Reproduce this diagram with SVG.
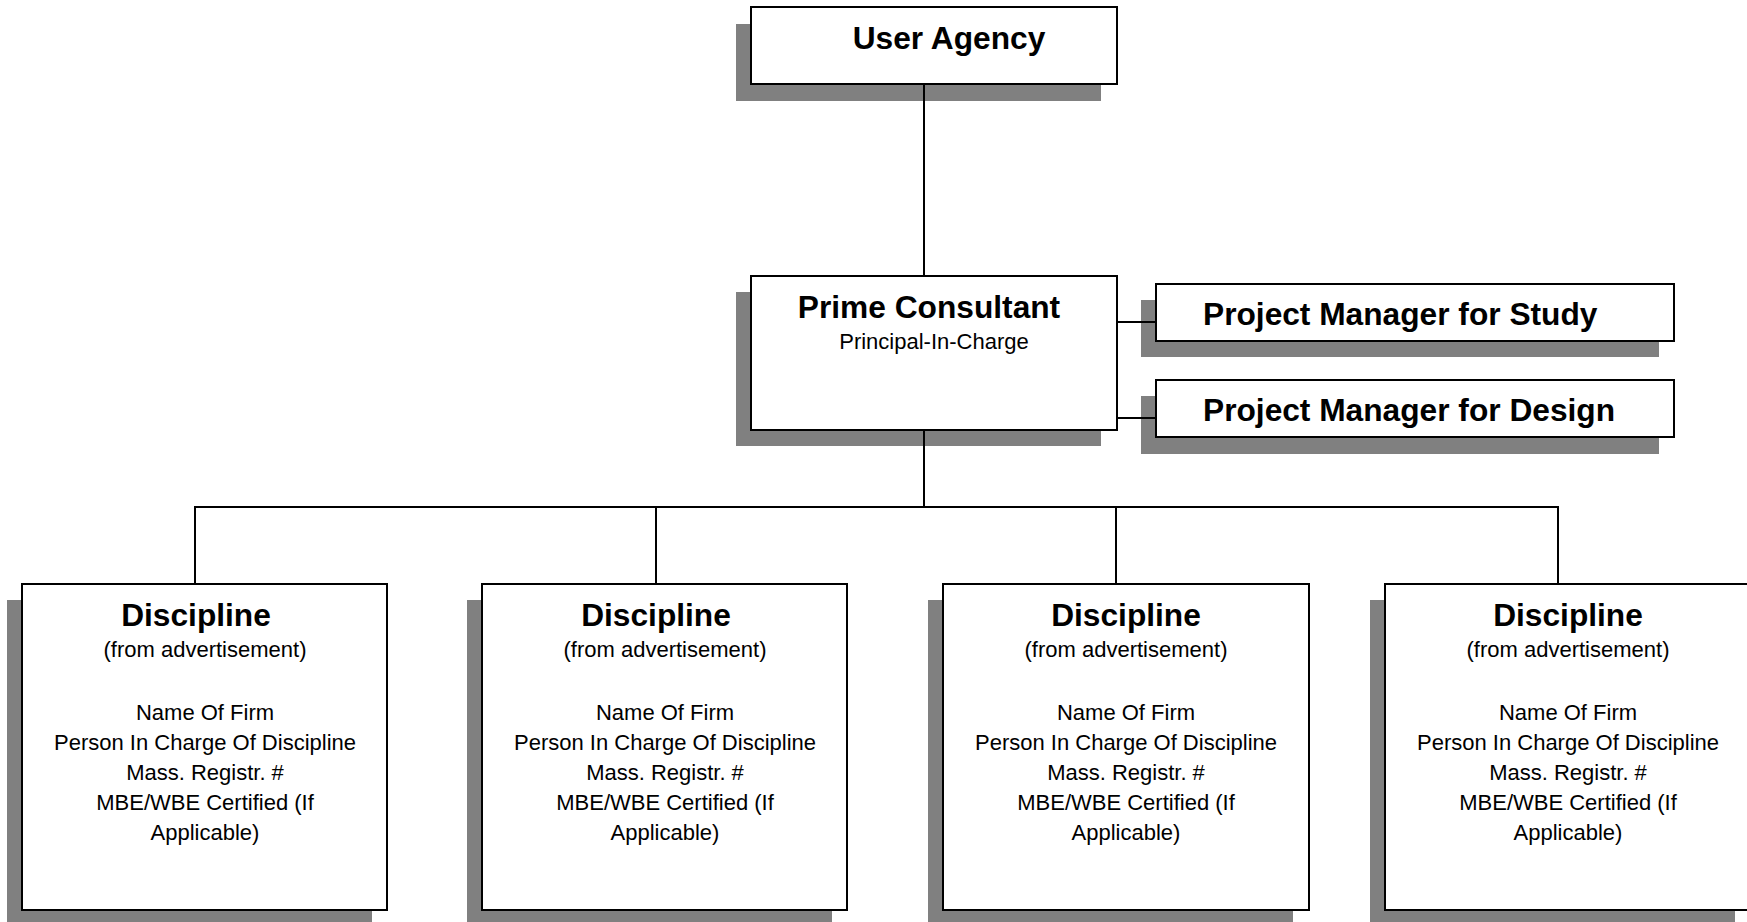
<svg xmlns="http://www.w3.org/2000/svg" width="1747" height="922" viewBox="0 0 1747 922">
<style>
.sh{fill:#808080;stroke:none}
.bx{fill:#fff;stroke:#000;stroke-width:2}
.cn line{stroke:#000;stroke-width:2}
text{font-family:"Liberation Sans",Arial,sans-serif;fill:#000}
.b{font-weight:bold;font-size:31.7px}
.r{font-size:22px}
.m{text-anchor:middle}
</style>
<rect width="1747" height="922" fill="#fff"/>
<g id="user-agency">
<rect class="sh" x="736" y="24" width="365" height="77"/>
<rect class="bx" x="751" y="7" width="366" height="77"/>
<text class="b m" x="949" y="49">User Agency</text>
</g>
<g id="prime-consultant">
<rect class="sh" x="736" y="292" width="365" height="154"/>
<rect class="bx" x="751" y="276" width="366" height="154"/>
<text class="b m" x="929" y="318">Prime Consultant</text>
<text class="r m" x="934" y="349">Principal-In-Charge</text>
</g>
<g id="pm-study">
<rect class="sh" x="1141" y="300" width="518" height="57"/>
<rect class="bx" x="1156" y="284" width="518" height="57"/>
<text class="b" x="1203" y="325">Project Manager for Study</text>
</g>
<g id="pm-design">
<rect class="sh" x="1141" y="396" width="518" height="58"/>
<rect class="bx" x="1156" y="380" width="518" height="57"/>
<text class="b" x="1203" y="421">Project Manager for Design</text>
</g>
<g id="discipline-1">
<rect class="sh" x="7" y="600" width="365" height="326"/>
<rect class="bx" x="22" y="584" width="365" height="326"/>
<text class="b m" x="196" y="626">Discipline</text>
<text class="r m" x="205" y="657">(from advertisement)</text>
<text class="r m" x="205" y="720">Name Of Firm</text>
<text class="r m" x="205" y="750">Person In Charge Of Discipline</text>
<text class="r m" x="205" y="780">Mass. Registr. #</text>
<text class="r m" x="205" y="810">MBE/WBE Certified (If</text>
<text class="r m" x="205" y="840">Applicable)</text>
</g>
<g id="discipline-2">
<rect class="sh" x="467" y="600" width="365" height="326"/>
<rect class="bx" x="482" y="584" width="365" height="326"/>
<text class="b m" x="656" y="626">Discipline</text>
<text class="r m" x="665" y="657">(from advertisement)</text>
<text class="r m" x="665" y="720">Name Of Firm</text>
<text class="r m" x="665" y="750">Person In Charge Of Discipline</text>
<text class="r m" x="665" y="780">Mass. Registr. #</text>
<text class="r m" x="665" y="810">MBE/WBE Certified (If</text>
<text class="r m" x="665" y="840">Applicable)</text>
</g>
<g id="discipline-3">
<rect class="sh" x="928" y="600" width="365" height="326"/>
<rect class="bx" x="943" y="584" width="366" height="326"/>
<text class="b m" x="1126" y="626">Discipline</text>
<text class="r m" x="1126" y="657">(from advertisement)</text>
<text class="r m" x="1126" y="720">Name Of Firm</text>
<text class="r m" x="1126" y="750">Person In Charge Of Discipline</text>
<text class="r m" x="1126" y="780">Mass. Registr. #</text>
<text class="r m" x="1126" y="810">MBE/WBE Certified (If</text>
<text class="r m" x="1126" y="840">Applicable)</text>
</g>
<g id="discipline-4">
<rect class="sh" x="1370" y="600" width="365" height="326"/>
<rect class="bx" x="1385" y="584" width="366" height="326"/>
<text class="b m" x="1568" y="626">Discipline</text>
<text class="r m" x="1568" y="657">(from advertisement)</text>
<text class="r m" x="1568" y="720">Name Of Firm</text>
<text class="r m" x="1568" y="750">Person In Charge Of Discipline</text>
<text class="r m" x="1568" y="780">Mass. Registr. #</text>
<text class="r m" x="1568" y="810">MBE/WBE Certified (If</text>
<text class="r m" x="1568" y="840">Applicable)</text>
</g>
<g id="connectors" class="cn">
<line x1="924" y1="84" x2="924" y2="276"/>
<line x1="1117" y1="322" x2="1156" y2="322"/>
<line x1="1117" y1="418" x2="1156" y2="418"/>
<line x1="924" y1="430" x2="924" y2="507"/>
<line x1="194" y1="507" x2="1559" y2="507"/>
<line x1="195" y1="507" x2="195" y2="584"/>
<line x1="656" y1="507" x2="656" y2="584"/>
<line x1="1116" y1="507" x2="1116" y2="584"/>
<line x1="1558" y1="507" x2="1558" y2="584"/>
</g>
</svg>
